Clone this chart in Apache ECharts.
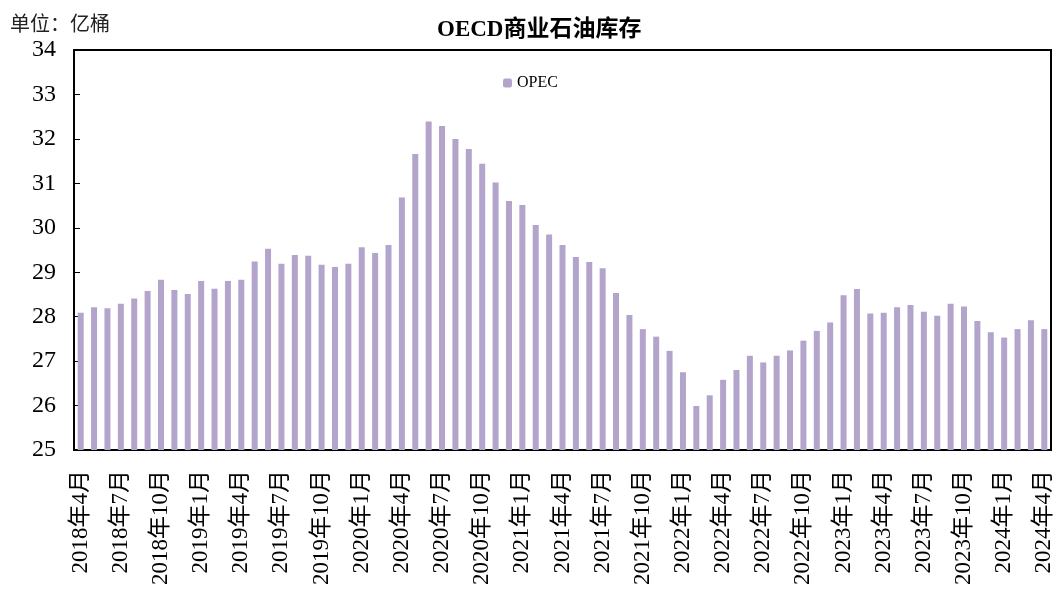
<!DOCTYPE html>
<html>
<head>
<meta charset="UTF-8">
<title>OECD商业石油库存</title>
<script src="https://cdn.jsdelivr.net/npm/echarts@6/dist/echarts.min.js"></script>
<style>
  html, body { margin: 0; padding: 0; background: #fff; }
  #main { width: 1056px; height: 601px; }
</style>
</head>
<body>
<div id="main"></div>
<script>
// 月份：2018年4月 ~ 2024年4月
var months = [
  '2018年4月','2018年5月','2018年6月','2018年7月','2018年8月','2018年9月','2018年10月','2018年11月','2018年12月',
  '2019年1月','2019年2月','2019年3月','2019年4月','2019年5月','2019年6月','2019年7月','2019年8月','2019年9月',
  '2019年10月','2019年11月','2019年12月','2020年1月','2020年2月','2020年3月','2020年4月','2020年5月','2020年6月',
  '2020年7月','2020年8月','2020年9月','2020年10月','2020年11月','2020年12月','2021年1月','2021年2月','2021年3月',
  '2021年4月','2021年5月','2021年6月','2021年7月','2021年8月','2021年9月','2021年10月','2021年11月','2021年12月',
  '2022年1月','2022年2月','2022年3月','2022年4月','2022年5月','2022年6月','2022年7月','2022年8月','2022年9月',
  '2022年10月','2022年11月','2022年12月','2023年1月','2023年2月','2023年3月','2023年4月','2023年5月','2023年6月',
  '2023年7月','2023年8月','2023年9月','2023年10月','2023年11月','2023年12月','2024年1月','2024年2月','2024年3月',
  '2024年4月'
];

// 库存（亿桶）
var stocks = [
  28.09, 28.21, 28.19, 28.29, 28.41, 28.58, 28.83, 28.60, 28.51,
  28.80, 28.63, 28.80, 28.83, 29.24, 29.53, 29.19, 29.39, 29.37,
  29.17, 29.12, 29.19, 29.56, 29.43, 29.61, 30.68, 31.66, 32.39,
  32.29, 32.00, 31.77, 31.44, 31.02, 30.60, 30.51, 30.06, 29.85,
  29.61, 29.34, 29.23, 29.09, 28.53, 28.04, 27.72, 27.55, 27.23,
  26.75, 25.99, 26.23, 26.58, 26.80, 27.12, 26.97, 27.12, 27.24,
  27.46, 27.68, 27.87, 28.48, 28.62, 28.07, 28.09, 28.21, 28.26,
  28.11, 28.02, 28.29, 28.23, 27.90, 27.65, 27.53, 27.72, 27.92,
  27.72
];

var yTicks = [25, 26, 27, 28, 29, 30, 31, 32, 33, 34];

var serifFont = '"Liberation Serif", "DejaVu Serif", "Noto Sans CJK SC", serif';

var myChart = echarts.init(document.getElementById('main'));

var option = {
  backgroundColor: '#fff',
  animation: false,
  title: {
    text: 'OECD商业石油库存',
    left: 432,
    top: 14,
    textStyle: {
      fontFamily: serifFont,
      fontSize: 23,
      fontWeight: 'bold',
      color: '#000'
    }
  },
  graphic: [{
    type: 'text',
    left: 10,
    top: 13,
    style: {
      text: '单位：亿桶',
      font: '20px "Noto Sans CJK SC", sans-serif',
      fill: '#222'
    }
  }],
  legend: {
    top: 70,
    left: 498,
    itemWidth: 9,
    itemHeight: 9,
    itemGap: 3,
    data: ['OPEC'],
    textStyle: {
      fontFamily: serifFont,
      fontSize: 16,
      color: '#000'
    }
  },
  grid: {
    left: 74,
    right: 5,
    top: 50,
    bottom: 151,
    show: true,
    borderColor: '#000',
    borderWidth: 2
  },
  xAxis: {
    type: 'category',
    data: months,
    boundaryGap: true,
    axisLine: { lineStyle: { color: '#000', width: 2 } },
    axisTick: {
      inside: true,
      interval: 2,
      length: 6,
      alignWithLabel: false,
      lineStyle: { color: '#000' }
    },
    axisLabel: {
      interval: 2,
      rotate: 90,
      margin: 16,
      padding: [0, 4, 0, 0],
      fontFamily: serifFont,
      fontSize: 23,
      color: '#000'
    }
  },
  yAxis: {
    type: 'value',
    min: yTicks[0],
    max: yTicks[yTicks.length - 1],
    interval: 1,
    splitLine: { show: false },
    axisLine: { show: true, lineStyle: { color: '#000', width: 2 } },
    axisTick: {
      show: true,
      inside: true,
      length: 6,
      lineStyle: { color: '#000' }
    },
    axisLabel: {
      margin: 18,
      fontFamily: serifFont,
      fontSize: 24,
      color: '#000'
    }
  },
  series: [{
    name: 'OPEC',
    type: 'bar',
    data: stocks,
    barWidth: 6,
    itemStyle: {
      color: '#B3A4CB'
    }
  }]
};

myChart.setOption(option);
</script>
</body>
</html>
